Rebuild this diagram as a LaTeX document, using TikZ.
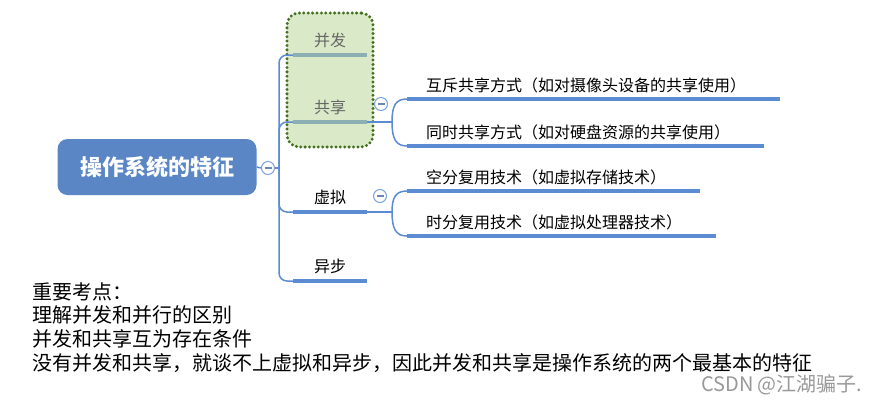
\documentclass[tikz,border=0pt]{standalone}
\usepackage{fontspec}
\setmainfont{Noto Sans CJK SC}
\usetikzlibrary{positioning}

\definecolor{rootblue}{HTML}{5A86C6}
\definecolor{lineblue}{HTML}{5B8BD2}
\definecolor{boxgreen}{HTML}{DAEAC8}
\definecolor{dotgreen}{HTML}{46701F}
\definecolor{mutedline}{HTML}{8CAFB4}

\begin{document}
\begin{tikzpicture}[x=1pt,y=-1pt,
    root/.style={fill=rootblue, rounded corners=10pt, minimum width=199pt, minimum height=56pt,
        text=white, font=\fontsize{22}{24}\selectfont\bfseries},
    fold/.style={circle, draw=lineblue!80, fill=white, line width=1pt, minimum size=13pt,
        inner sep=0pt, text=lineblue!60!gray},
    topic/.style={anchor=south, minimum width=73pt, inner ysep=7pt, font=\fontsize{16}{18}\selectfont},
    leaf/.style={anchor=south west, inner xsep=19pt, inner ysep=6pt, font=\fontsize{16}{18}\selectfont},
    groupbox/.style={fill=boxgreen, draw=dotgreen, line width=3.3pt, line cap=round,
        dash pattern=on 0pt off 4.4pt, rounded corners=12pt, minimum width=86pt, minimum height=134pt},
    uline/.style={lineblue, line width=4pt},
    link/.style={lineblue, line width=1.5pt, rounded corners=8pt},
    note/.style={anchor=north west, align=left, inner sep=0pt, font=\fontsize{20}{23.7}\selectfont}]

    \useasboundingbox[fill=white] (0,0) rectangle (878,408);

    % grouped topics
    \node[groupbox] (grp) at (330,80) {};

    % root and topics
    \node[root] (root) at (157,167) {操作系统的特征};
    \node[fold] (f0) at (268,168) {\rule{7pt}{1.3pt}};
    \node[topic, text=black!60] (bf) at (330,55) {并发};
    \node[topic, text=black!60] (gx) at (330,122) {共享};
    \node[topic] (xn) at (330,212) {虚拟};
    \node[topic] (yb) at (330,281) {异步};
    \coordinate (trunk) at (279,168);

    \draw[link] (root.east) -- (f0.west);
    \draw[link] (f0.east) -- (trunk);
    \draw[link] (trunk) |- (bf.south west);
    \draw[link] (trunk) |- (gx.south west);
    \draw[link] (trunk) |- (xn.south west);
    \draw[link] (trunk) |- (yb.south west);

    \draw[uline, mutedline] (bf.south west) -- (bf.south east);
    \draw[uline, mutedline] (gx.south west) -- (gx.south east);
    \draw[uline] (xn.south west) -- (xn.south east);
    \draw[uline] (yb.south west) -- (yb.south east);

    % sharing
    \node[fold] (f1) at (381,104) {\rule{7pt}{1.3pt}};
    \node[leaf] (hc) at (407,99) {互斥共享方式（如对摄像头设备的共享使用）};
    \node[leaf] (ts) at (407,146) {同时共享方式（如对硬盘资源的共享使用）};
    \coordinate (s1) at (392,122);
    \draw[link] (gx.south east) -- (s1);
    \draw[link] (s1) .. controls (392,105) and (396,99) .. (hc.south west);
    \draw[link] (s1) .. controls (392,139) and (396,146) .. (ts.south west);
    \draw[uline] (hc.south west) -- ([xshift=15pt]hc.south east);
    \draw[uline] (ts.south west) -- ([xshift=15pt]ts.south east);

    % virtual
    \node[fold] (f2) at (380,196) {\rule{7pt}{1.3pt}};
    \node[leaf] (kf) at (407,191) {空分复用技术（如虚拟存储技术）};
    \node[leaf] (sf) at (407,236) {时分复用技术（如虚拟处理器技术）};
    \coordinate (s2) at (392,212);
    \draw[link] (xn.south east) -- (s2);
    \draw[link] (s2) .. controls (392,197) and (396,191) .. (kf.south west);
    \draw[link] (s2) .. controls (392,229) and (396,236) .. (sf.south west);
    \draw[uline] (kf.south west) -- ([xshift=15pt]kf.south east);
    \draw[uline] (sf.south west) -- ([xshift=15pt]sf.south east);

    % notes
    \node[note] (tips) at (32,282) {重要考点：\\理解并发和并行的区别\\并发和共享互为存在条件\\没有并发和共享，就谈不上虚拟和异步，因此并发和共享是操作系统的两个最基本的特征};
    \node[anchor=east, text=black!40, font=\fontsize{20}{22}\selectfont] (mark) at (866,385) {CSDN @江湖骗子.};

\end{tikzpicture}
\end{document}
